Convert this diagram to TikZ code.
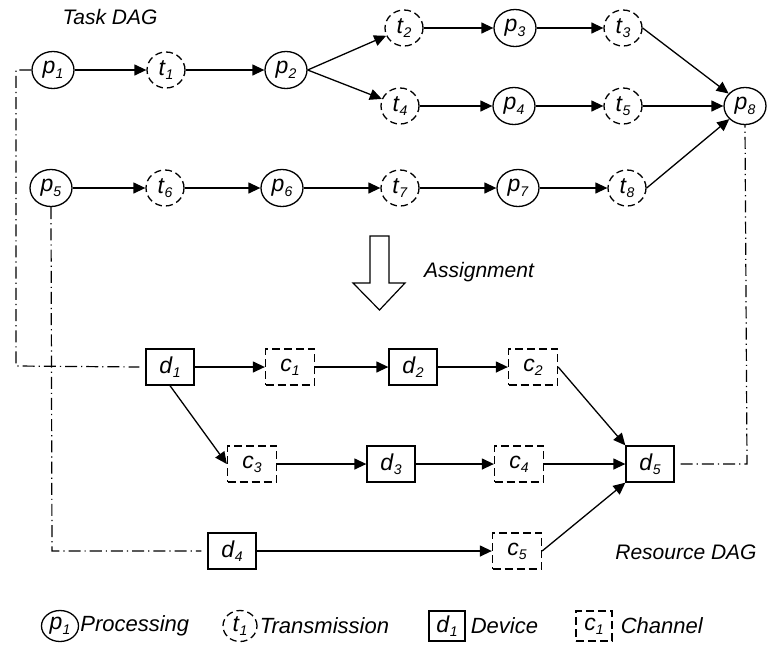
\documentclass[tikz,border=0pt]{standalone}
\usepackage{fontspec}
\setmainfont{Liberation Sans}
\usetikzlibrary{shapes.geometric,arrows.meta}
\newcommand{\nl}[2]{\textit{#1}\raisebox{-0.35ex}{\fontsize{14}{14}\selectfont\textit{#2}}}
\tikzset{
  base/.style={line width=1.3pt, inner sep=0pt, font=\fontsize{23}{26}\selectfont},
  proc/.style={base, ellipse, draw, minimum width=42pt, minimum height=37pt},
  trans/.style={base, ellipse, draw, dash pattern=on 7pt off 4pt, minimum width=38pt, minimum height=36pt},
  dev/.style={base, rectangle, draw, minimum width=48pt, minimum height=36pt},
  chan/.style={base, rectangle, draw, dash pattern=on 8pt off 4pt, minimum width=49pt, minimum height=36pt},
  arr/.style={-{Triangle[length=12pt,width=11pt]}, line width=1.3pt},
  dd/.style={line width=1.2pt, dash pattern=on 12pt off 4pt on 1.2pt off 4pt},
  lbl/.style={inner sep=0pt, font=\fontsize{21}{24}\selectfont\itshape},
  leg/.style={inner sep=0pt, font=\fontsize{22}{24}\selectfont\itshape},
  lproc/.style={base, ellipse, draw, minimum width=37pt, minimum height=31pt},
  ltrans/.style={base, ellipse, draw, dash pattern=on 7pt off 4pt, minimum width=34pt, minimum height=31pt},
  ldev/.style={base, rectangle, draw, minimum width=36pt, minimum height=30pt},
  lchan/.style={base, rectangle, draw, dash pattern=on 8pt off 4pt, minimum width=36pt, minimum height=30pt},
}
\begin{document}
\begin{tikzpicture}[x=1pt,y=-1pt]
\useasboundingbox (0,0) rectangle (767,646);
% Task DAG
\node[lbl] (taskdag) at (110,17) {Task DAG};
\node[proc]  (p1) at (53,70)  {\nl{p}{1}};
\node[trans] (t1) at (166,70) {\nl{t}{1}};
\node[proc]  (p2) at (286,70) {\nl{p}{2}};
\node[trans] (t2) at (404,28) {\nl{t}{2}};
\node[proc]  (p3) at (515,28) {\nl{p}{3}};
\node[trans] (t3) at (623,28) {\nl{t}{3}};
\node[trans] (t4) at (400,106) {\nl{t}{4}};
\node[proc]  (p4) at (514,106) {\nl{p}{4}};
\node[trans] (t5) at (623,106) {\nl{t}{5}};
\node[proc]  (p8) at (745,106) {\nl{p}{8}};
\node[proc]  (p5) at (51,188)  {\nl{p}{5}};
\node[trans] (t6) at (165,188) {\nl{t}{6}};
\node[proc]  (p6) at (282,188) {\nl{p}{6}};
\node[trans] (t7) at (400,188) {\nl{t}{7}};
\node[proc]  (p7) at (518,188) {\nl{p}{7}};
\node[trans] (t8) at (627,188) {\nl{t}{8}};

\draw[arr] (p1) -- (t1);
\draw[arr] (t1) -- (p2);
\draw[arr] (p2.east) -- (t2);
\draw[arr] (p2.east) -- (t4);
\draw[arr] (t2) -- (p3);
\draw[arr] (p3) -- (t3);
\draw[arr] (t4) -- (p4);
\draw[arr] (p4) -- (t5);
\draw[arr] (t3.east) -- (p8);
\draw[arr] (t5) -- (p8);
\draw[arr] (t8.east) -- (p8);
\draw[arr] (p5) -- (t6);
\draw[arr] (t6) -- (p6);
\draw[arr] (p6) -- (t7);
\draw[arr] (t7) -- (p7);
\draw[arr] (p7) -- (t8);

% Assignment arrow
\draw[line width=1.2pt, fill=white] (370,236) -- (389,236) -- (389,283) -- (405,283) -- (379.5,310) -- (353,283) -- (370,283) -- cycle;
\node[lbl, anchor=west] (assign) at (424,272) {Assignment};

% Resource DAG
\node[dev]  (d1) at (170,367) {\nl{d}{1}};
\node[chan] (c1) at (290,367) {\nl{c}{1}};
\node[dev]  (d2) at (413,367) {\nl{d}{2}};
\node[chan] (c2) at (533,367) {\nl{c}{2}};
\node[chan] (c3) at (252,464) {\nl{c}{3}};
\node[dev]  (d3) at (391,464) {\nl{d}{3}};
\node[chan] (c4) at (519,464) {\nl{c}{4}};
\node[dev]  (d5) at (650,464) {\nl{d}{5}};
\node[dev]  (d4) at (232,551) {\nl{d}{4}};
\node[chan] (c5) at (517,551) {\nl{c}{5}};
\node[lbl] (resdag) at (686,552) {Resource DAG};

\draw[arr] (d1) -- (c1);
\draw[arr] (c1) -- (d2);
\draw[arr] (d2) -- (c2);
\draw[arr] (c2.east) -- (d5.north west);
\draw[arr] (d1.south) -- (c3.west);
\draw[arr] (c3) -- (d3);
\draw[arr] (d3) -- (c4);
\draw[arr] (c4) -- (d5);
\draw[arr] (d4) -- (c5);
\draw[arr] (c5.east) -- (d5.south west);

% mapping lines
\coordinate (k1a) at (16,70);
\coordinate (k1b) at (16,366);
\coordinate (k2) at (52,551);
\coordinate (k3) at (747,464);
\draw[dd] (p1.west) -- (k1a) -- (k1b) -- ([xshift=-6pt]d1.west);
\draw[dd] (p5.south) -- (k2) -- ([xshift=-6pt]d4.west);
\draw[dd] ([xshift=6pt]d5.east) -- (k3) -- (p8.south);

% Legend
\node[lproc]  (lp) at (60,626)  {\nl{p}{1}};
\node[leg, anchor=west] (lpt) at ([xshift=1pt]lp.east) {Processing};
\node[ltrans] (lt) at (240,626) {\nl{t}{1}};
\node[leg, anchor=west] (ltt) at ([xshift=2pt]lt.east) {Transmission};
\node[ldev]   (ld) at (447,626) {\nl{d}{1}};
\node[leg, anchor=west] (ldt) at ([xshift=5pt]ld.east) {Device};
\node[lchan]  (lc) at (594,626) {\nl{c}{1}};
\node[leg, anchor=west] (lct) at ([xshift=8pt]lc.east) {Channel};
\end{tikzpicture}
\end{document}
